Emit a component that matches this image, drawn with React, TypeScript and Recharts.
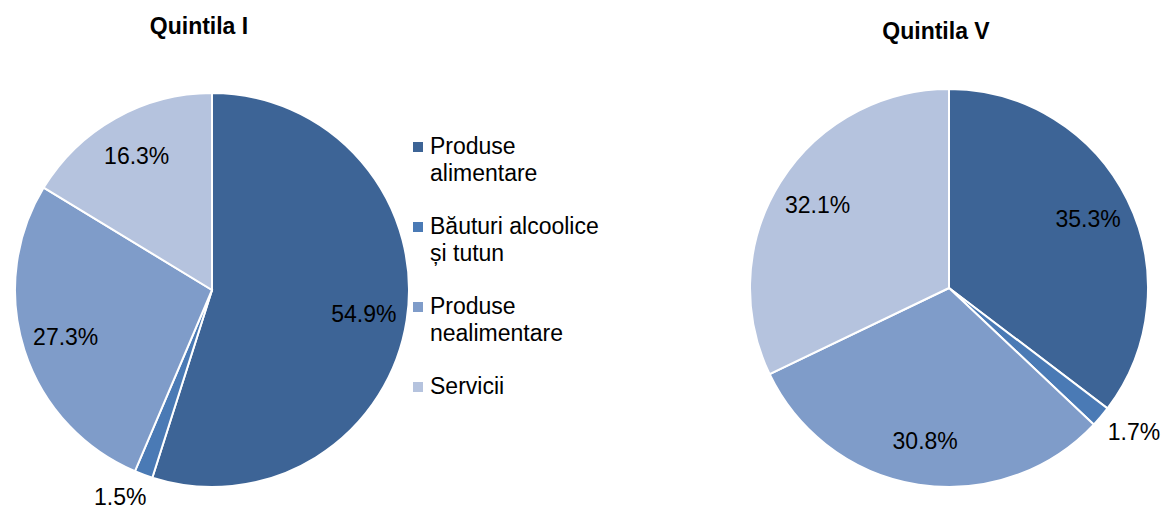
import { Cell, Legend, Pie, PieChart } from "recharts";

const categories = ["Produse alimentare", "Băuturi alcoolice și tutun", "Produse nealimentare", "Servicii"];
const legendLines = [
  ["Produse", "alimentare"],
  ["Băuturi alcoolice", "și tutun"],
  ["Produse", "nealimentare"],
  ["Servicii"],
];
const quintila1 = [54.9, 1.5, 27.3, 16.3];
const quintila5 = [35.3, 1.7, 30.8, 32.1];
const titles = ["Quintila I", "Quintila V"];

const colors = ["#3d6496", "#4a7ab5", "#7f9cc9", "#b5c3de"];
const FONT = "'Liberation Sans', Arial, sans-serif";
const RAD = Math.PI / 180;

const q1Data = categories.map((name, i) => ({ name, value: quintila1[i] }));
const q5Data = categories.map((name, i) => ({ name, value: quintila5[i] }));

function renderLabel(props: any) {
  const { cx, cy, midAngle, outerRadius, value } = props;
  const small = value < 5;
  const r = outerRadius * (small ? 1.12 : 0.78);
  const cos = Math.cos(-midAngle * RAD);
  const sin = Math.sin(-midAngle * RAD);
  const x = cx + r * cos + (small ? Math.sign(cos) * 15 : 0);
  const y = cy + r * sin;
  return (
    <text
      x={x}
      y={y}
      fill="#000"
      fontFamily={FONT}
      fontSize={23}
      textAnchor="middle"
      dominantBaseline="central"
    >
      {value.toFixed(1)}%
    </text>
  );
}

function LegendBox() {
  return (
    <div style={{ fontFamily: FONT, fontSize: 23, color: "#000" }}>
      {legendLines.map((lines, i) => (
        <div key={categories[i]} style={{ position: "relative", height: 80, lineHeight: "26.5px" }}>
          <span
            style={{
              position: "absolute",
              left: 0,
              top: 9,
              width: 10,
              height: 10,
              background: colors[i],
            }}
          />
          <div style={{ paddingLeft: 17 }}>
            {lines.map((l) => (
              <div key={l}>{l}</div>
            ))}
          </div>
        </div>
      ))}
    </div>
  );
}

const titleStyle = {
  position: "absolute" as const,
  width: 200,
  textAlign: "center" as const,
  fontFamily: FONT,
  fontWeight: "bold",
  fontSize: 23,
};

export default function App() {
  return (
    <div style={{ position: "absolute", left: 0, top: 0, width: 1163, height: 509, background: "#fff" }}>
      <div style={{ ...titleStyle, left: 99, top: 13 }}>{titles[0]}</div>
      <div style={{ ...titleStyle, left: 836, top: 18 }}>{titles[1]}</div>
      <PieChart width={1163} height={509} style={{ position: "absolute", left: 0, top: 0 }}>
        <Pie
          data={q1Data}
          dataKey="value"
          nameKey="name"
          cx={207}
          cy={285}
          outerRadius={197}
          startAngle={90}
          endAngle={-270}
          stroke="#fff"
          strokeWidth={2}
          label={renderLabel}
          labelLine={false}
          isAnimationActive={false}
        >
          {q1Data.map((entry, index) => (
            <Cell fill={colors[index]} key={entry.name} />
          ))}
        </Pie>
        <Pie
          data={q5Data}
          dataKey="value"
          nameKey="name"
          cx={944}
          cy={283}
          outerRadius={199}
          startAngle={90}
          endAngle={-270}
          stroke="#fff"
          strokeWidth={2}
          label={renderLabel}
          labelLine={false}
          isAnimationActive={false}
        >
          {q5Data.map((entry, index) => (
            <Cell fill={colors[index]} key={entry.name} />
          ))}
        </Pie>
        <Legend
          layout="vertical"
          content={() => <LegendBox />}
          wrapperStyle={{ position: "absolute", left: 413, top: 133, width: 220 }}
        />
      </PieChart>
    </div>
  );
}
